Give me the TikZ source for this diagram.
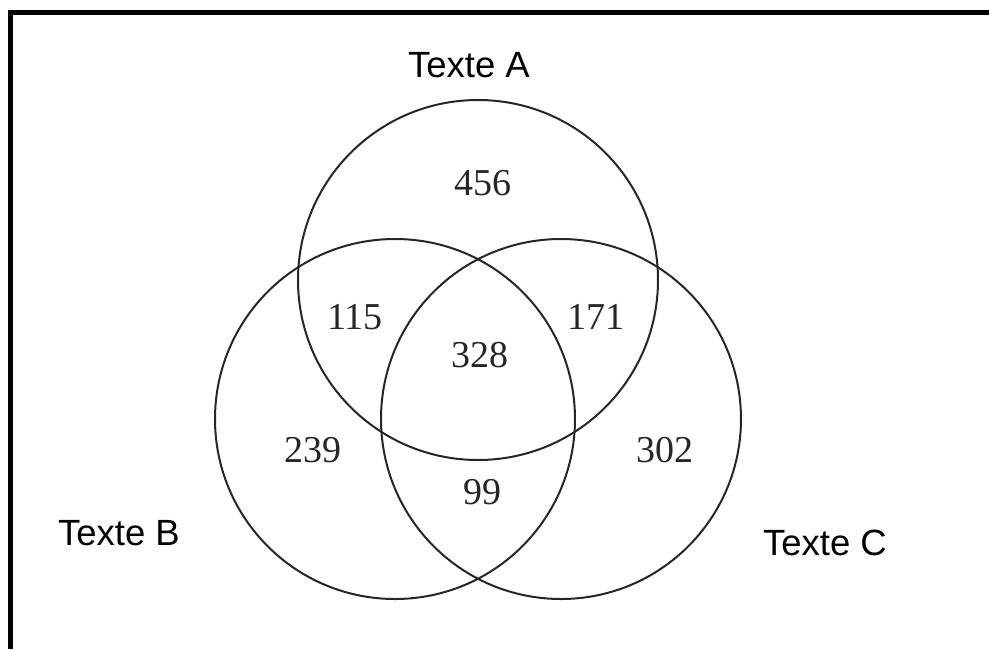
\documentclass[tikz,border=0pt]{standalone}
\usepackage{fontspec}
\setmainfont{Liberation Serif}
\newfontfamily\labelfont{Liberation Sans}
\tikzset{
  setcircle/.style={draw=black!85, line width=2pt},
  countlabel/.style={font=\fontsize{38}{40}\selectfont, text=black!85, inner sep=0pt},
  setname/.style={font=\labelfont\fontsize{36.5}{38}\selectfont, inner sep=0pt},
  frameline/.style={line width=5pt, black}
}
\begin{document}
\begin{tikzpicture}[x=1pt, y=-1pt]
  \useasboundingbox (0,0) rectangle (989,649);
  % partial frame: top and left edges
  \coordinate (fl) at (10.5,649);
  \coordinate (fc) at (10.5,12.5);
  \coordinate (fr) at (989,12.5);
  \draw[frameline] (fl) -- (fc) -- (fr);
  % the three sets
  \node[setcircle, circle, minimum size=360pt, inner sep=0pt] (A) at (478,280) {};
  \node[setcircle, circle, minimum size=360pt, inner sep=0pt] (B) at (395,419) {};
  \node[setcircle, circle, minimum size=360pt, inner sep=0pt] (C) at (561,419) {};
  % set names
  \node[setname] (nA) at (469,65) {Texte A};
  \node[setname] (nB) at (119,533) {Texte B};
  \node[setname] (nC) at (825,543) {Texte C};
  % region counts
  \node[countlabel] (rA) at (483,183) {456};
  \node[countlabel] (rAB) at (355,317) {115};
  \node[countlabel] (rAC) at (596,317) {171};
  \node[countlabel] (rABC) at (480,355) {328};
  \node[countlabel] (rB) at (313,450) {239};
  \node[countlabel] (rC) at (665,450) {302};
  \node[countlabel] (rBC) at (482,492) {99};
\end{tikzpicture}
\end{document}
